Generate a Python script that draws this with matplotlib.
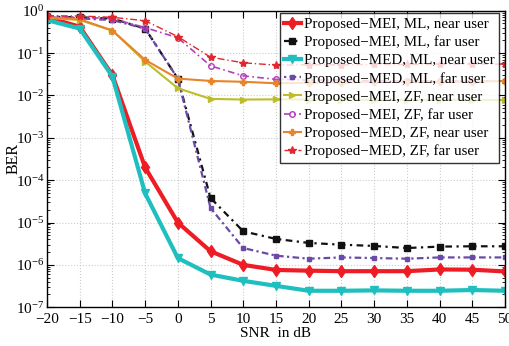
import matplotlib
matplotlib.use("Agg")
import matplotlib.pyplot as plt
import numpy as np

snr = [-20, -15, -10, -5, 0, 5, 10, 15, 20, 25, 30, 35, 40, 45, 50]

mei_ml_near = [0.7, 0.42, 0.03, 2.0e-4, 1.0e-5, 2.1e-6, 1.0e-6, 7.6e-7, 7.3e-7, 7.1e-7, 7.1e-7, 7.1e-7, 7.8e-7, 7.7e-7, 7.0e-7]
mei_ml_far = [0.72, 0.7, 0.65, 0.38, 0.025, 3.8e-5, 6.2e-6, 4.1e-6, 3.3e-6, 3.0e-6, 2.8e-6, 2.5e-6, 2.7e-6, 2.75e-6, 2.75e-6]
med_ml_near = [0.6, 0.38, 0.028, 4.9e-5, 1.45e-6, 5.9e-7, 4.2e-7, 3.2e-7, 2.45e-7, 2.45e-7, 2.5e-7, 2.45e-7, 2.45e-7, 2.55e-7, 2.45e-7]
med_ml_far = [0.7, 0.66, 0.6, 0.38, 0.025, 2.2e-5, 2.5e-6, 1.65e-6, 1.4e-6, 1.5e-6, 1.45e-6, 1.4e-6, 1.5e-6, 1.5e-6, 1.5e-6]
mei_zf_near = [0.68, 0.6, 0.34, 0.063, 0.0148, 0.0083, 0.008, 0.0081, 0.008, 0.008, 0.0079, 0.0079, 0.0079, 0.0078, 0.0078]
mei_zf_far = [0.75, 0.7, 0.65, 0.4, 0.23, 0.05, 0.029, 0.024, 0.023, 0.023, 0.022, 0.022, 0.022, 0.022, 0.022]
med_zf_near = [0.7, 0.63, 0.34, 0.069, 0.025, 0.022, 0.021, 0.0194, 0.02, 0.02, 0.021, 0.021, 0.021, 0.021, 0.022]
med_zf_far = [0.76, 0.75, 0.7, 0.58, 0.245, 0.08, 0.059, 0.052, 0.053, 0.053, 0.054, 0.054, 0.054, 0.055, 0.055]

labels = ["Proposed\u2212MEI, ML, near user", "Proposed\u2212MEI, ML, far user",
          "Proposed\u2212MED, ML, near user", "Proposed\u2212MED, ML, far user",
          "Proposed\u2212MEI, ZF, near user", "Proposed\u2212MEI, ZF, far user",
          "Proposed\u2212MED, ZF, near user", "Proposed\u2212MED, ZF, far user"]
xticklabels = ['\u221220', '\u221215', '\u221210', '\u22125', '0', '5', '10', '15', '20', '25', '30', '35', '40', '45', '50']

plt.rcParams['font.family'] = ['Liberation Serif', 'DejaVu Serif']
plt.rcParams['mathtext.fontset'] = 'stix'

fig = plt.figure(figsize=(5.09, 3.46), dpi=100)
ax = fig.add_axes([0.0923, 0.112, 0.8997, 0.857])

ax.plot(snr, mei_ml_near, color='#ee1c25', lw=3, marker='d', ms=6, ls='-', label=labels[0])
ax.plot(snr, mei_ml_far, color='#111111', lw=1.6, marker='s', ms=4, ls=(0, (3, 2, 1, 2)), label=labels[1])
ax.plot(snr, med_ml_near, color='#1fbfbf', lw=3, marker='v', ms=6, ls='-', label=labels[2])
ax.plot(snr, med_ml_far, color='#6a4aa8', lw=1.6, marker='s', ms=3.5, ls=(0, (1, 1.5, 3, 1.5)), label=labels[3])
ax.plot(snr, mei_zf_near, color='#bdbd2a', lw=1.5, marker='>', ms=5, ls='-', label=labels[4])
ax.plot(snr, mei_zf_far, color='#b040b8', lw=1.2, marker='o', ms=4, mfc='none', ls=(0, (4, 2, 1, 2)), label=labels[5])
ax.plot(snr, med_zf_near, color='#e8842a', lw=1.5, marker='P', ms=5, ls='-', label=labels[6])
ax.plot(snr, med_zf_far, color='#e0282e', lw=1.0, marker='*', ms=6, ls=(0, (5, 2, 1, 2)), label=labels[7])

ax.set_yscale('log')
ax.set_xlim(-20, 50)
ax.set_ylim(1e-7, 1)
ax.set_xticks(snr)
ax.set_xticklabels(xticklabels)
ax.set_yticks([10.0**k for k in range(-7, 1)])
ax.tick_params(which='both', direction='in', top=True, right=True, labelsize=11)
ax.tick_params(axis='x', pad=4)
ax.tick_params(axis='y', pad=2)
ax.tick_params(which='major', length=5)
ax.tick_params(which='minor', length=2.5)
ax.grid(True, which='major', ls=':', color='#cccccc', lw=0.8)
ax.set_xlabel('SNR  in dB', fontsize=11)
ax.set_ylabel('BER', fontsize=11.5)
ax.xaxis.set_label_coords(0.5, -0.066)
ax.yaxis.set_label_coords(-0.072, 0.5)
ax.yaxis.label.set_verticalalignment('center')
for s in ax.spines.values():
    s.set_linewidth(1.0)

leg = ax.legend(loc='upper right', bbox_to_anchor=(0.987, 0.992), fontsize=10.8, frameon=True,
                fancybox=False, edgecolor='black',
                handlelength=1.1, handletextpad=0.2, labelspacing=0.3, borderpad=0.3,
                borderaxespad=0.0)
leg.get_frame().set_linewidth(1.0)

fig.savefig('out.png', dpi=100)
